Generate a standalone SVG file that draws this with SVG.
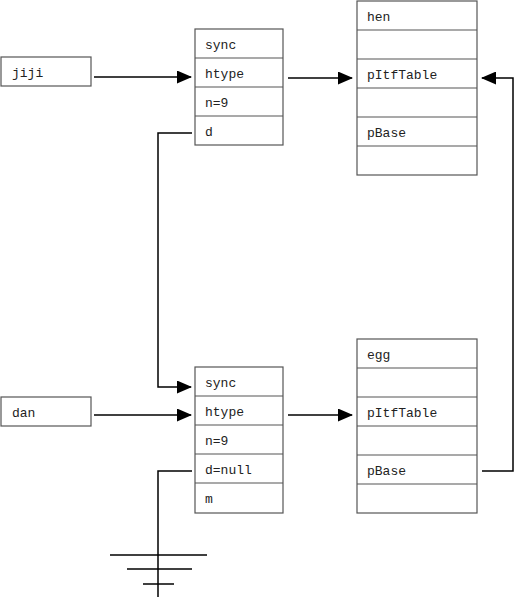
<svg xmlns="http://www.w3.org/2000/svg" width="515" height="599" viewBox="0 0 515 599">
<defs>
<style>
.box{fill:#fff;stroke:#555;stroke-width:1.2}
.sep{stroke:#555;stroke-width:1.2}
.t{font-family:"Liberation Mono","DejaVu Sans Mono",monospace;font-size:13px;fill:#222}
.c{fill:none;stroke:#000;stroke-width:1.5}
</style>
<marker id="ah" markerUnits="userSpaceOnUse" markerWidth="15" markerHeight="13" viewBox="0 0 15 13" refX="14" refY="6.5" orient="auto">
<path d="M0,0 L15,6.5 L0,13 Z" fill="#000"/>
</marker>
</defs>
<rect width="515" height="599" fill="#fff"/>
<g id="jiji">
<rect class="box" x="1" y="57" width="90" height="29"/>
<text class="t" x="12" y="76.5">jiji</text>
</g>
<g id="dan">
<rect class="box" x="1" y="397" width="90" height="29"/>
<text class="t" x="12" y="416.5">dan</text>
</g>
<g id="obj1">
<rect class="box" x="195" y="29" width="88" height="116"/>
<line class="sep" x1="195" y1="58" x2="283" y2="58"/>
<line class="sep" x1="195" y1="87" x2="283" y2="87"/>
<line class="sep" x1="195" y1="116" x2="283" y2="116"/>
<text class="t" x="205" y="48.5">sync</text>
<text class="t" x="205" y="77.5">htype</text>
<text class="t" x="205" y="106.5">n=9</text>
<text class="t" x="205" y="135.5">d</text>
</g>
<g id="obj2">
<rect class="box" x="195" y="367" width="88" height="146"/>
<line class="sep" x1="195" y1="396" x2="283" y2="396"/>
<line class="sep" x1="195" y1="425" x2="283" y2="425"/>
<line class="sep" x1="195" y1="454" x2="283" y2="454"/>
<line class="sep" x1="195" y1="483" x2="283" y2="483"/>
<text class="t" x="205" y="386.5">sync</text>
<text class="t" x="205" y="415.5">htype</text>
<text class="t" x="205" y="444.5">n=9</text>
<text class="t" x="205" y="473.5">d=null</text>
<text class="t" x="205" y="502.5">m</text>
</g>
<g id="hen">
<rect class="box" x="357" y="1" width="120" height="174"/>
<line class="sep" x1="357" y1="30" x2="477" y2="30"/>
<line class="sep" x1="357" y1="59" x2="477" y2="59"/>
<line class="sep" x1="357" y1="88" x2="477" y2="88"/>
<line class="sep" x1="357" y1="117" x2="477" y2="117"/>
<line class="sep" x1="357" y1="146" x2="477" y2="146"/>
<text class="t" x="367" y="20.5">hen</text>
<text class="t" x="367" y="78.5">pItfTable</text>
<text class="t" x="367" y="136.5">pBase</text>
</g>
<g id="egg">
<rect class="box" x="357" y="339" width="120" height="174"/>
<line class="sep" x1="357" y1="368" x2="477" y2="368"/>
<line class="sep" x1="357" y1="397" x2="477" y2="397"/>
<line class="sep" x1="357" y1="426" x2="477" y2="426"/>
<line class="sep" x1="357" y1="455" x2="477" y2="455"/>
<line class="sep" x1="357" y1="484" x2="477" y2="484"/>
<text class="t" x="367" y="358.5">egg</text>
<text class="t" x="367" y="416.5">pItfTable</text>
<text class="t" x="367" y="474.5">pBase</text>
</g>
<g id="connectors">
<line class="c" x1="94" y1="77" x2="191" y2="77" marker-end="url(#ah)"/>
<line class="c" x1="288" y1="78" x2="352" y2="78" marker-end="url(#ah)"/>
<line class="c" x1="94" y1="415" x2="191" y2="415" marker-end="url(#ah)"/>
<line class="c" x1="288" y1="415" x2="352" y2="415" marker-end="url(#ah)"/>
<polyline class="c" points="192,133 158,133 158,387 191,387" marker-end="url(#ah)"/>
<polyline class="c" points="482,471 513,471 513,78 482,78" marker-end="url(#ah)"/>
<polyline class="c" points="192,471 158,471 158,597"/>
<line class="c" x1="110" y1="555" x2="207" y2="555"/>
<line class="c" x1="127" y1="569" x2="192" y2="569"/>
<line class="c" x1="143" y1="584" x2="174" y2="584"/>
</g>
</svg>
